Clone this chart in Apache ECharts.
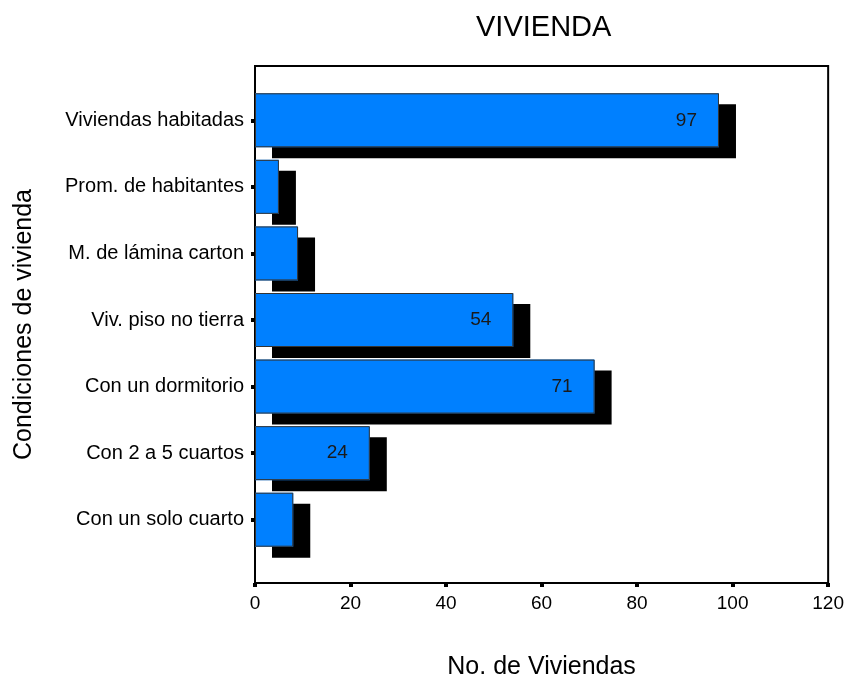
<!DOCTYPE html>
<html>
<head>
<meta charset="utf-8">
<script src="https://cdn.jsdelivr.net/npm/echarts@6/dist/echarts.min.js"></script>
<style>
html,body{margin:0;padding:0;background:#fff;}
#chart{width:847px;height:685px;}
</style>
</head>
<body>
<div id="chart"></div>
<script>
const titleText = 'VIVIENDA';
const xAxisName = 'No. de Viviendas';
const yAxisName = 'Condiciones de vivienda';
const categories = ['Viviendas habitadas','Prom. de habitantes','M. de lámina carton','Viv. piso no tierra','Con un dormitorio','Con 2 a 5 cuartos','Con un solo cuarto'];
const values = [97, 5, 9, 54, 71, 24, 8];
const xTicks = {min: 0, max: 120, interval: 20};

const FONT = 'Liberation Sans, Arial, sans-serif';
const chart = echarts.init(document.getElementById('chart'));
chart.setOption({
  animation: false,
  backgroundColor: '#fff',
  title: {
    text: titleText,
    left: 471,
    top: 8,
    textStyle: {fontFamily: FONT, fontSize: 29, fontWeight: 'normal', color: '#000'}
  },
  grid: [
    {left: 255, right: 18, top: 66, bottom: 100, show: true, borderColor: '#000', borderWidth: 2, backgroundColor: '#fff'},
    {left: 255, right: 18, top: 87, bottom: 132}
  ],
  xAxis: [
    {
      gridIndex: 0, type: 'value', min: xTicks.min, max: xTicks.max, interval: xTicks.interval,
      name: xAxisName, nameLocation: 'middle', nameGap: 72,
      nameTextStyle: {fontFamily: FONT, fontSize: 25, color: '#000'},
      axisLine: {show: true, lineStyle: {color: '#000', width: 2}},
      axisTick: {show: true, length: 4, lineStyle: {color: '#000', width: 4}},
      axisLabel: {fontFamily: FONT, fontSize: 19, color: '#000', margin: 11},
      splitLine: {show: false}
    },
    {
      gridIndex: 1, type: 'value', min: xTicks.min, max: xTicks.max, interval: xTicks.interval,
      show: false
    }
  ],
  yAxis: [
    {
      gridIndex: 0, type: 'value', min: 0, max: 1,
      name: yAxisName, nameLocation: 'middle', nameGap: 218,
      nameTextStyle: {fontFamily: FONT, fontSize: 25, color: '#000'},
      axisLine: {show: false}, axisTick: {show: false}, axisLabel: {show: false}, splitLine: {show: false}
    },
    {
      gridIndex: 1, type: 'category', data: categories, inverse: true,
      axisLine: {show: false},
      axisTick: {show: true, alignWithLabel: true, length: 4, lineStyle: {color: '#000', width: 4}},
      axisLabel: {fontFamily: FONT, fontSize: 20, color: '#000', margin: 11},
      splitLine: {show: false}
    }
  ],
  series: [
    {
      type: 'bar',
      xAxisIndex: 1, yAxisIndex: 1,
      data: values,
      barWidth: 54,
      barGap: '-100%',
      itemStyle: {
        color: '#0080FF',
        borderWidth: 0,
        shadowColor: '#000',
        shadowBlur: 0,
        shadowOffsetX: 17,
        shadowOffsetY: 11
      },
      emphasis: {disabled: true}
    },
    {
      type: 'bar',
      xAxisIndex: 1, yAxisIndex: 1,
      data: values,
      barWidth: 54,
      barGap: '-100%',
      itemStyle: {
        color: 'rgba(0,0,0,0)',
        borderColor: '#333',
        borderWidth: 1
      },
      label: {
        show: true,
        position: 'insideRight',
        distance: 22,
        fontFamily: FONT,
        fontSize: 19,
        color: '#1a1a1a',
        formatter: p => (p.value >= 20 ? String(p.value) : '')
      },
      emphasis: {disabled: true}
    }
  ]
});
</script>
</body>
</html>
